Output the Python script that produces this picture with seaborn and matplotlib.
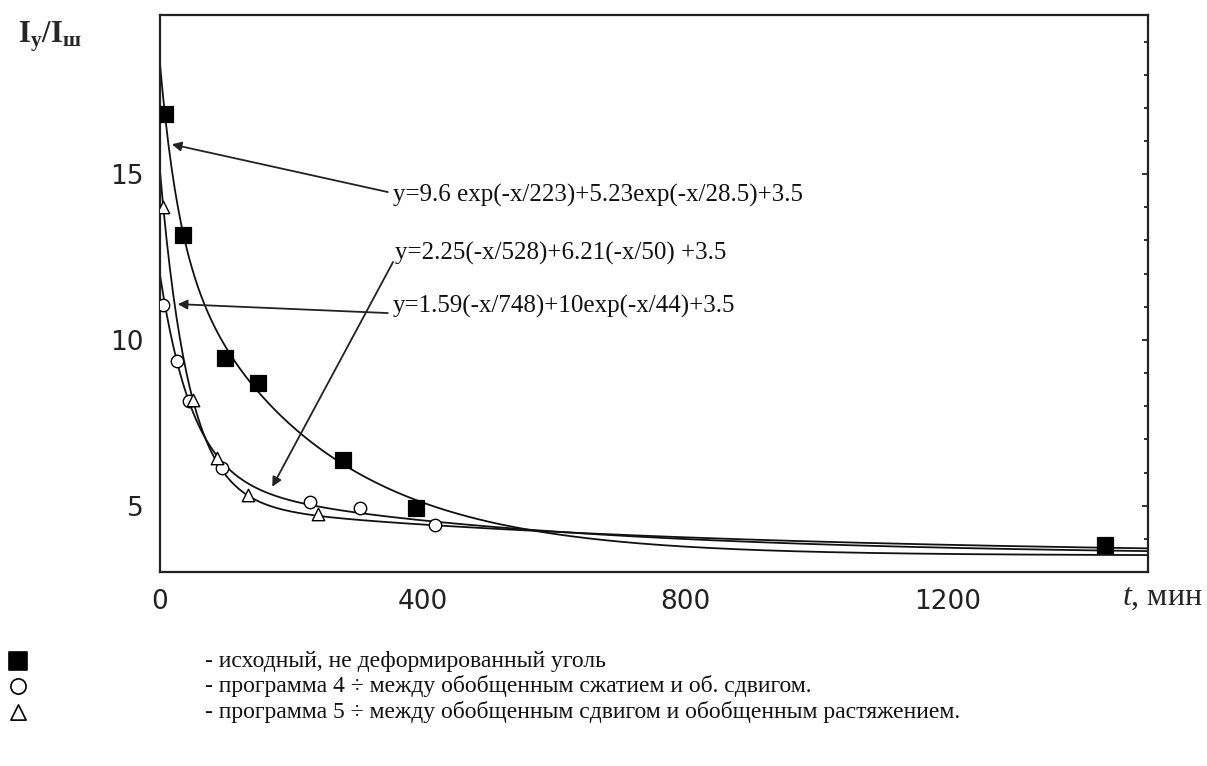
import numpy as np
import pandas as pd
import matplotlib
matplotlib.use("Agg")
import matplotlib.pyplot as plt
import seaborn as sns

# Measured points: original (undeformed) coal
sq_t = [8, 35, 99, 150, 279, 390, 1440]
sq_v = [16.8, 13.15, 9.46, 8.70, 6.39, 4.94, 3.82]

# Program 4: between generalized compression and shear
ci_t = [5, 26, 44, 94, 229, 305, 419]
ci_v = [11.05, 9.35, 8.15, 6.14, 5.12, 4.94, 4.42]

# Program 5: between generalized shear and generalized tension
tr_t = [5, 50, 87, 134, 241]
tr_v = [14.0, 8.2, 6.45, 5.33, 4.76]

# Fit parameters: y = a1*exp(-x/t1) + a2*exp(-x/t2) + y0
fit_sq = [9.6, 223, 5.23, 28.5, 3.5]
fit_ci = [2.25, 528, 6.21, 50, 3.5]
fit_tr = [1.59, 748, 10.0, 44, 3.5]

eq_labels = [
    "y=9.6 exp(-x/223)+5.23exp(-x/28.5)+3.5",
    "y=2.25(-x/528)+6.21(-x/50) +3.5",
    "y=1.59(-x/748)+10exp(-x/44)+3.5",
]

legend_labels = [
    "- исходный, не деформированный уголь",
    "- программа 4 ÷ между обобщенным сжатием и об. сдвигом.",
    "- программа 5 ÷ между обобщенным сдвигом и обобщенным растяжением.",
]

x_ticks = [0, 400, 800, 1200]
y_ticks = [5, 10, 15]
X_MAX = 1505
Y_MIN, Y_MAX = 3.0, 19.8

sns.set_style("white")
plt.rcParams["font.family"] = ["DejaVu Sans"]
plt.rcParams["mathtext.fontset"] = "custom"
plt.rcParams["mathtext.rm"] = "Liberation Serif"
plt.rcParams["mathtext.bf"] = "Liberation Serif:bold"
plt.rcParams["mathtext.it"] = "Liberation Serif:italic"

fig = plt.figure(figsize=(12.07, 7.66), dpi=100)
ax = fig.add_axes([160 / 1207, 1 - 572 / 766, (1148 - 160) / 1207, (572 - 15) / 766])


def fit_curve(p, t):
    a1, t1, a2, t2, y0 = p
    return a1 * np.exp(-t / t1) + a2 * np.exp(-t / t2) + y0


tt = np.linspace(0, X_MAX, 600)
curves = pd.concat([
    pd.DataFrame({"t": tt, "v": fit_curve(fit_sq, tt), "s": "sq"}),
    pd.DataFrame({"t": tt, "v": fit_curve(fit_ci, tt), "s": "ci"}),
    pd.DataFrame({"t": tt, "v": fit_curve(fit_tr, tt), "s": "tr"}),
])
sns.lineplot(data=curves, x="t", y="v", units="s", estimator=None,
             color="#111111", lw=1.3, ax=ax, legend=False)

sns.scatterplot(x=sq_t, y=sq_v, marker="s", s=120, color="black",
                edgecolor="black", ax=ax, zorder=5, legend=False)
sns.scatterplot(x=ci_t, y=ci_v, marker="o", s=80, facecolor="white",
                edgecolor="black", linewidth=1.0, ax=ax, zorder=5, legend=False)
sns.scatterplot(x=tr_t, y=tr_v, marker="^", s=80, facecolor="white",
                edgecolor="black", linewidth=1.0, ax=ax, zorder=5, legend=False)

ax.set_xlim(0, X_MAX)
ax.set_ylim(Y_MIN, Y_MAX)
ax.set_xticks(x_ticks)
ax.set_yticks(y_ticks)
ax.set_xticks(np.arange(0, X_MAX, 100), minor=True)
ax.set_yticks(np.arange(4, 20, 1), minor=True)
ax.set_xlabel("")
ax.set_ylabel("")
ax.tick_params(which="both", direction="in", color="#111111", width=1.2,
               right=True, top=False, labelsize=19, labelcolor="#222222")
ax.tick_params(which="major", length=4, pad=12)
ax.tick_params(which="minor", length=3)
for sp in ax.spines.values():
    sp.set_color("#222222")
    sp.set_linewidth(1.6)

# Fit equations with arrows pointing to the curves
eq_pos = [(355, 14.37), (358, 12.6), (355, 11.0)]
arrow_tips = [(18, 15.9), (171, 5.57), (27, 11.08)]
arrow_tails = [(347, 14.46), (355, 12.35), (347, 10.81)]
for lab, (tx, ty), tip, tail in zip(eq_labels, eq_pos, arrow_tips, arrow_tails):
    ax.text(tx, ty, lab, fontsize=18, family="Liberation Serif",
            ha="left", va="center", color="#111111")
    ax.annotate("", xy=tip, xytext=tail,
                arrowprops=dict(arrowstyle="-|>", color="#222222", lw=1.3,
                                mutation_scale=14, shrinkA=0, shrinkB=0))

# Axis titles
fig.text(18 / 1207, 1 - 42 / 766, r"$\mathbf{I_{у}/I_{ш}}$", fontsize=22,
         ha="left", va="baseline")
fig.text(1122 / 1207, 1 - 605 / 766, r"$\mathit{t}$, мин", fontsize=23,
         family="Liberation Serif", ha="left", va="baseline")

# Marker key below the chart
key_y = [661, 686, 712]
key_markers = [("s", "black"), ("o", "white"), ("^", "white")]
key_ax = fig.add_axes([0, 0, 1, 1], facecolor="none")
key_ax.set_xlim(0, 1207)
key_ax.set_ylim(766, 0)
key_ax.axis("off")
for yy, (m, fc), lab in zip(key_y, key_markers, legend_labels):
    sns.scatterplot(x=[18], y=[yy], marker=m, s=150 if m == "s" else 120,
                    facecolor=fc, edgecolor="black", linewidth=1.2,
                    ax=key_ax, legend=False)
    key_ax.text(205, yy, lab, fontsize=17, family="Liberation Serif",
                ha="left", va="center", color="#111111")

fig.savefig("out.png", dpi=100)
